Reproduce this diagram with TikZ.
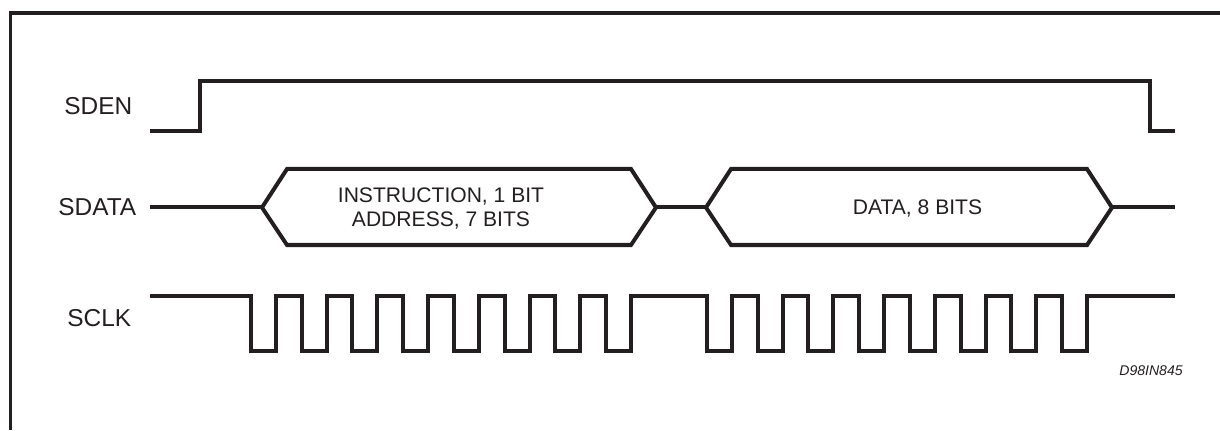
\documentclass[tikz,border=0pt]{standalone}
\usepackage{fontspec}
\setmainfont{Liberation Sans}
\definecolor{ink}{RGB}{35,31,32}
\usetikzlibrary{positioning}
\tikzset{
  wave/.style={draw=ink, line width=0.08cm, line join=miter},
  frameline/.style={draw=ink, line width=0.07cm},
  siglabel/.style={font=\fontsize{13.9}{16}\selectfont, text=ink, inner sep=0pt},
  buslabel/.style={font=\fontsize{12}{13.8}\selectfont, text=ink, align=center, inner sep=0pt},
  tag/.style={font=\itshape\fontsize{8}{9}\selectfont, text=ink, inner sep=0pt},
}

\begin{document}
\begin{tikzpicture}
    \useasboundingbox (0,0) rectangle (24.4,8.6);
    \draw[frameline] (0.21,0) -- (0.21,8.34) -- (24.4,8.34);
    % signal names
    \node[siglabel,anchor=west] (sden) at (1.28,6.48) {SDEN};
    \node[siglabel,anchor=west] (sdata) at (1.16,4.46) {SDATA};
    \node[siglabel,anchor=west] (sclk) at (1.34,2.24) {SCLK};
    % SDEN
    \draw[wave] (3.0,5.98) -- (4.0,5.98) -- (4.0,6.98) -- (23.0,6.98) -- (23.0,5.98) -- (23.5,5.98);
    % SDATA
    \draw[wave] (3.0,4.45) -- (5.24,4.45);
    \draw[wave] (13.12,4.45) -- (14.12,4.45);
    \draw[wave] (22.24,4.45) -- (23.5,4.45);
    \draw[wave] (5.24,4.45) -- (5.74,5.22) -- (12.62,5.22) -- (13.12,4.45) -- (12.62,3.70) -- (5.74,3.70) -- cycle;
    \draw[wave] (14.12,4.45) -- (14.62,5.22) -- (21.74,5.22) -- (22.24,4.45) -- (21.74,3.70) -- (14.62,3.70) -- cycle;
    \node[buslabel] (instr) at (8.82,4.43) {INSTRUCTION, 1 BIT\\ADDRESS, 7 BITS};
    \node[buslabel] (data) at (18.35,4.43) {DATA, 8 BITS};
    % SCLK
    \draw[wave] (3.0,2.68) -- (5.02,2.68)
      \foreach \k in {1,...,8} { -- ++(0,-1.1) -- ++(0.5,0) -- ++(0,1.1) -- ++(0.514,0) }
      -- (14.14,2.68)
      \foreach \k in {1,...,8} { -- ++(0,-1.1) -- ++(0.5,0) -- ++(0,1.1) -- ++(0.514,0) }
      -- (23.5,2.68);
    \node[tag,anchor=east] (code) at (23.66,1.18) {D98IN845};
  \end{tikzpicture}
\end{document}
